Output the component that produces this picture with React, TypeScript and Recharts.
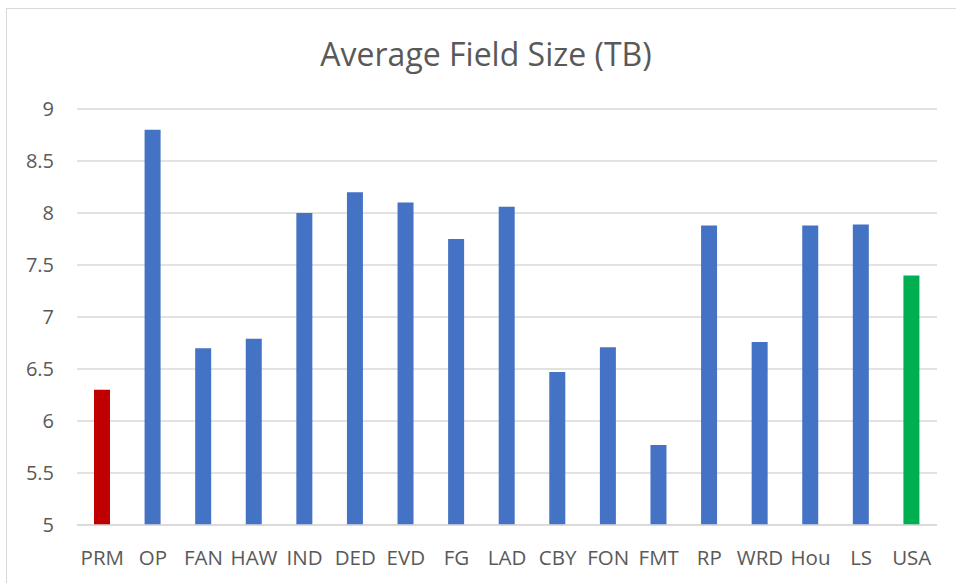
import React from "react";
import { BarChart, Bar, XAxis, YAxis, CartesianGrid, Cell } from "recharts";

// Fields and their average size (TB)
const fields = ["PRM", "OP", "FAN", "HAW", "IND", "DED", "EVD", "FG", "LAD", "CBY", "FON", "FMT", "RP", "WRD", "Hou", "LS", "USA"];
const avgSize = [6.3, 8.8, 6.7, 6.79, 8.0, 8.2, 8.1, 7.75, 8.06, 6.47, 6.71, 5.77, 7.88, 6.76, 7.88, 7.89, 7.4];
const barColors = ["#C00000", "#4472C4", "#4472C4", "#4472C4", "#4472C4", "#4472C4", "#4472C4", "#4472C4", "#4472C4", "#4472C4", "#4472C4", "#4472C4", "#4472C4", "#4472C4", "#4472C4", "#4472C4", "#00B050"];
const yTicks = [5, 5.5, 6, 6.5, 7, 7.5, 8, 8.5, 9];

const chartTitle = "Average Field Size (TB)";

const data = fields.map((name, i) => ({ name, value: avgSize[i] }));

const FONT = "'Open Sans', 'Noto Sans', sans-serif";

export default function App() {
  return (
    <div
      style={{
        position: "absolute",
        left: 0,
        top: 0,
        width: 956,
        height: 583,
        overflow: "hidden",
        background: "#ffffff",
        fontFamily: FONT,
      }}
    >
      <div
        style={{
          position: "absolute",
          left: 6,
          top: 8,
          width: 1000,
          height: 640,
          border: "1px solid #d9d9d9",
          boxSizing: "border-box",
        }}
      />
      <div
        style={{
          position: "absolute",
          left: 0,
          top: 34,
          width: 972,
          textAlign: "center",
          fontSize: 32,
          color: "#595959",
          lineHeight: "40px",
        }}
      >
        {chartTitle}
      </div>
      <div style={{ position: "absolute", left: 0, top: 0 }}>
        <BarChart
          width={956}
          height={583}
          data={data}
          margin={{ top: 109, right: 19, left: 17, bottom: 18 }}
        >
          <CartesianGrid vertical={false} stroke="#d9d9d9" strokeWidth={1.5} />
          <XAxis
            dataKey="name"
            interval={0}
            height={40}
            axisLine={{ stroke: "#d9d9d9", strokeWidth: 1.5 }}
            tickLine={false}
            tickSize={6}
            tickMargin={19}
            tick={{ fill: "#595959", fontSize: 20.5, fontFamily: FONT }}
          />
          <YAxis
            width={60}
            domain={[5, 9]}
            ticks={yTicks}
            allowDataOverflow
            axisLine={false}
            tickLine={false}
            tickSize={6}
            tickMargin={17}
            tick={{ fill: "#595959", fontSize: 20, fontFamily: FONT }}
          />
          <Bar dataKey="value" barSize={16} isAnimationActive={false}>
            {data.map((d, i) => (
              <Cell key={d.name} fill={barColors[i]} />
            ))}
          </Bar>
        </BarChart>
      </div>
    </div>
  );
}
